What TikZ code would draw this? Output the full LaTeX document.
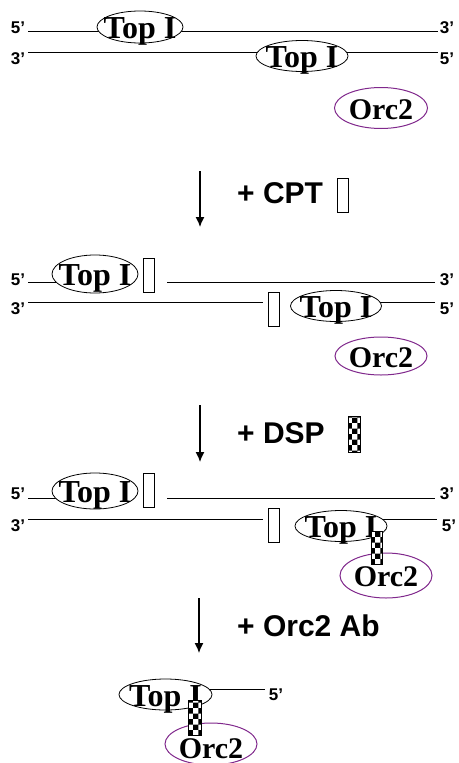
\documentclass[tikz,border=0pt]{standalone}
\usepackage{fontspec}
\setmainfont{Liberation Serif}
\setsansfont{Liberation Sans}
\usetikzlibrary{arrows.meta,shapes.geometric,patterns}
\definecolor{orcpurple}{RGB}{128,40,140}
\begin{document}
\begin{tikzpicture}[x=1pt,y=-1pt,>={Latex[length=10pt,width=9pt]},
strand/.style={draw=black,line width=1pt},
prot/.style={ellipse,draw=black,fill=white,line width=0.8pt,inner sep=0pt},
orc/.style={prot,draw=orcpurple,line width=1pt},
protname/.style={font=\fontsize{32}{32}\selectfont\bfseries,inner sep=0pt,text height=21pt,text depth=0pt,yshift=-1pt},
orcname/.style={font=\fontsize{30}{30}\selectfont\bfseries,inner sep=0pt,text height=20pt,text depth=0pt,yshift=-1pt},
endlab/.style={font=\fontsize{17}{17}\selectfont\sffamily\bfseries,inner sep=0pt},
steplab/.style={font=\fontsize{30}{30}\selectfont\sffamily\bfseries,inner sep=0pt,anchor=west},
cptbox/.style={draw=black,fill=white,line width=0.8pt,inner sep=0pt,minimum width=11pt,minimum height=34pt},
dspbox/.style={cptbox,preaction={fill=white},pattern=checkerboard,pattern color=black},
stepflow/.style={->,line width=1.3pt}]
\useasboundingbox (0,0) rectangle (458,763);
% stage 1
\coordinate (s1a) at (28,31); \coordinate (s1b) at (438,31);
\coordinate (s1c) at (28,52); \coordinate (s1d) at (438,52);
\draw[strand] (s1a)--(s1b);
\draw[strand] (s1c)--(s1d);
\node[endlab] (e1a) at (18,28) {5’};
\node[endlab] (e1b) at (447,28) {3’};
\node[endlab] (e1c) at (18,59) {3’};
\node[endlab] (e1d) at (447,59) {5’};
\node[prot,minimum width=86pt,minimum height=32pt] (topA) at (140,27) {};
\node[protname] (topAt) at (topA) {Top I};
\node[prot,minimum width=92pt,minimum height=31pt] (topB) at (302,56) {};
\node[protname] (topBt) at (topB) {Top I};
\node[orc,minimum width=93pt,minimum height=41pt] (orcA) at (381,108) {};
\node[orcname] (orcAt) at (orcA) {Orc2};
% + CPT
\coordinate (a1s) at (200,171); \coordinate (a1e) at (200,227);
\draw[stepflow] (a1s)--(a1e);
\node[steplab] (cpt) at (237,193) {+ CPT};
\node[cptbox] (cptkey) at (342.5,195) {};
% stage 2
\coordinate (s2a) at (28,282); \coordinate (s2b) at (167,282); \coordinate (s2c) at (435,282);
\coordinate (s2d) at (28,302); \coordinate (s2e) at (263,302); \coordinate (s2f) at (336,302); \coordinate (s2g) at (435,302);
\draw[strand] (s2a)--(95,282);
\draw[strand] (s2b)--(s2c);
\draw[strand] (s2d)--(s2e);
\draw[strand] (s2f)--(s2g);
\node[endlab] (e2a) at (18,280) {5’};
\node[endlab] (e2b) at (447,280) {3’};
\node[endlab] (e2c) at (18,309) {3’};
\node[endlab] (e2d) at (447,309) {5’};
\node[prot,minimum width=86pt,minimum height=38pt] (topC) at (95,274) {};
\node[protname] (topCt) at (topC) {Top I};
\node[cptbox] (cptC) at (148.7,275) {};
\node[cptbox] (cptD) at (273.5,309) {};
\node[prot,minimum width=91pt,minimum height=31pt] (topD) at (336,306) {};
\node[protname] (topDt) at (topD) {Top I};
\node[orc,minimum width=92pt,minimum height=38pt] (orcB) at (381,356) {};
\node[orcname] (orcBt) at (orcB) {Orc2};
% + DSP
\coordinate (a2s) at (200,405); \coordinate (a2e) at (200,462);
\draw[stepflow] (a2s)--(a2e);
\node[steplab] (dsp) at (237,433) {+ DSP};
\node[dspbox,minimum width=12pt,minimum height=36pt] (dspkey) at (354,434) {};
% stage 3
\coordinate (s3a) at (28,498); \coordinate (s3b) at (167,498); \coordinate (s3c) at (435,498);
\coordinate (s3d) at (28,519); \coordinate (s3e) at (263,519); \coordinate (s3f) at (341,519); \coordinate (s3g) at (437,519);
\draw[strand] (s3a)--(95,498);
\draw[strand] (s3b)--(s3c);
\draw[strand] (s3d)--(s3e);
\draw[strand] (s3f)--(s3g);
\node[endlab] (e3a) at (18,494) {5’};
\node[endlab] (e3b) at (447,494) {3’};
\node[endlab] (e3c) at (18,526) {3’};
\node[endlab] (e3d) at (449,526) {5’};
\node[prot,minimum width=86pt,minimum height=36pt] (topE) at (95,491) {};
\node[protname] (topEt) at (topE) {Top I};
\node[cptbox] (cptE) at (148.7,490.5) {};
\node[cptbox] (cptF) at (273.5,525) {};
\node[prot,minimum width=92pt,minimum height=31pt] (topF) at (341,526) {};
\node[protname] (topFt) at (topF) {Top I};
\node[orc,minimum width=92pt,minimum height=45pt] (orcC) at (386,575.5) {};
\node[orcname] (orcCt) at (orcC) {Orc2};
\node[dspbox,minimum height=33pt] (dspF) at (376.5,547.5) {};
% + Orc2 Ab
\coordinate (a3s) at (199,598); \coordinate (a3e) at (199,653);
\draw[stepflow] (a3s)--(a3e);
\node[steplab] (orcab) at (237,626) {+ Orc2 Ab};
% stage 4
\coordinate (s4a) at (165,689); \coordinate (s4b) at (265,689);
\draw[strand] (s4a)--(s4b);
\node[endlab] (e4a) at (276,695) {5’};
\node[prot,minimum width=93pt,minimum height=31pt] (topG) at (165.5,694.5) {};
\node[protname] (topGt) at (topG) {Top I};
\node[orc,minimum width=92pt,minimum height=42pt] (orcD) at (211,744) {};
\node[orcname] (orcDt) at (211,747) {Orc2};
\node[dspbox,minimum width=13pt,minimum height=35pt] (dspG) at (194.5,717.5) {};
\end{tikzpicture}
\end{document}
